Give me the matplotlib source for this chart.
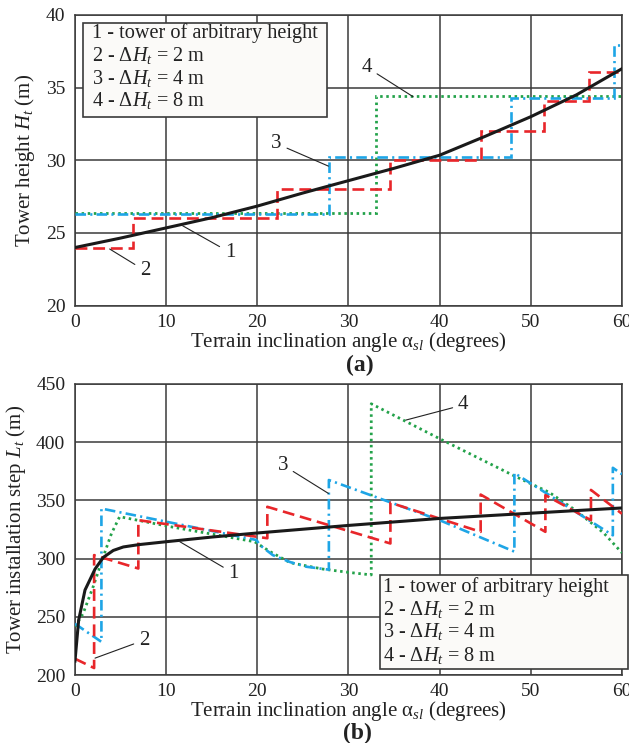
#!/usr/bin/env python3
"""Tower height and installation step versus terrain inclination angle."""
import matplotlib
matplotlib.use("Agg")
import matplotlib.pyplot as plt
from matplotlib.patches import Rectangle

plt.rcParams["font.family"] = ["Liberation Serif", "DejaVu Serif"]
plt.rcParams["mathtext.fontset"] = "custom"
plt.rcParams["mathtext.rm"] = "Liberation Serif"
plt.rcParams["mathtext.it"] = "Liberation Serif:italic"
plt.rcParams["mathtext.bf"] = "Liberation Serif:bold"

TEXT = "#222222"
GRID = "#3a3a3a"
RED = "#e8262a"
BLUE = "#1ea5e6"
GREEN = "#23a24a"

LEGEND_LINES = [
    "1 - tower of arbitrary height",
    r"2 - $\Delta H_t$ = 2 m",
    r"3 - $\Delta H_t$ = 4 m",
    r"4 - $\Delta H_t$ = 8 m",
]

# (a) tower height, curve 1 is smooth, curves 2-4 are steps
H1_X = [0, 5, 10, 15, 20, 25, 30, 35, 40, 45, 50, 55, 60]
H1_Y = [24.0, 24.65, 25.35, 26.05, 26.85, 27.75, 28.6, 29.45, 30.35, 31.65, 33.0, 34.5, 36.3]
H2_EDGES = [0, 6.4, 22.2, 34.6, 44.5, 51.5, 56.4, 60]
H2_LEVELS = [24.0, 26.0, 28.0, 30.0, 32.0, 34.1, 36.1]
H3_EDGES = [0, 27.85, 47.8, 59.1, 60]
H3_LEVELS = [26.3, 30.2, 34.3, 37.9]
H4_EDGES = [0, 33.05, 60]
H4_LEVELS = [26.4, 34.4]

# (b) tower installation step
L1_X = [0, 0.4, 1.1, 2.2, 3.1, 4.2, 5.3, 7, 10, 15, 20, 30, 40, 50, 60]
L1_Y = [212, 247, 273, 291, 301, 307, 310, 312, 314.5, 318.5, 322, 328.5, 334.5, 339, 343.5]
L2_X = [0, 2.1, 2.1, 6.95, 6.95, 21.1, 21.1, 34.6, 34.6, 44.5, 44.5, 51.6, 51.6, 56.6, 56.6, 60]
L2_Y = [214, 206, 303, 291.5, 333, 317.5, 344.5, 313, 348, 323, 355, 323, 354.5, 333, 359, 338.5]
L3_X = [0, 2.9, 2.9, 19.9, 20.3, 21.7, 23.6, 25.4, 27.85, 27.85, 40, 48.2, 48.2, 59.0, 59.0, 60]
L3_Y = [244, 228.5, 343, 316, 311.5, 303, 297, 293, 290.5, 367.5, 333, 306, 373.5, 320, 378, 372.5]
L4_X = [0, 0.9, 2.0, 3.1, 4.0, 4.9, 10.4, 19.7, 21.4, 23.6, 27.2, 30.2, 32.5, 32.5,
        40, 48.2, 52, 55, 58, 60]
L4_Y = [241.5, 253, 276, 301.5, 321.5, 336, 327.5, 314.5, 306, 296.5, 291, 288, 286, 433,
        403, 371, 357, 341, 322, 305]

X_TICKS = [0, 10, 20, 30, 40, 50, 60]
H_TICKS = [20, 25, 30, 35, 40]
L_TICKS = [200, 250, 300, 350, 400, 450]

RED_DASH = (0, (4.5, 2.2))
BLUE_DASH = (0, (4.0, 1.6, 0.8, 1.6))
GREEN_DOT = (0, (0.9, 1.3))

LABEL_SIZE = 15


def style_axes(ax, yticks, ylabel, label_x):
    ax.set_xlim(0, 60)
    ax.set_ylim(yticks[0], yticks[-1])
    ax.set_xticks(X_TICKS)
    ax.set_yticks(yticks)
    ax.tick_params(length=0, labelsize=14, colors=TEXT)
    ax.tick_params(axis="x", pad=6)
    ax.tick_params(axis="y", pad=7)
    ax.grid(True, color=GRID, linewidth=1.1)
    ax.set_axisbelow(True)
    for sp in ax.spines.values():
        sp.set_color(GRID)
        sp.set_linewidth(1.1)
    ax.set_xlabel(r"Terrain inclination angle $\mathrm{\alpha}_{sl}$ (degrees)",
                  fontsize=LABEL_SIZE, color=TEXT)
    ax.xaxis.set_label_coords(0.5, -0.082)
    ax.set_ylabel(ylabel, fontsize=LABEL_SIZE, color=TEXT)
    ax.yaxis.set_label_coords(label_x, 0.5)


def legend_box(ax, x0, y0, x1, y1, text_x, text_ys):
    ax.add_patch(Rectangle((x0, y0), x1 - x0, y1 - y0, transform=ax.transAxes,
                           facecolor="#fbfaf8", edgecolor=GRID, linewidth=1.2,
                           clip_on=False, zorder=5))
    for line, ty in zip(LEGEND_LINES, text_ys):
        ax.text(text_x, ty, line, transform=ax.transAxes, fontsize=14.6,
                color=TEXT, ha="left", va="center", zorder=6)


def leader(ax, label, tip, textpos):
    ax.annotate(label, xy=tip, xytext=textpos, ha="center", va="center",
                fontsize=LABEL_SIZE, color=TEXT, zorder=6,
                arrowprops=dict(arrowstyle="-", color=TEXT, lw=0.8,
                                shrinkA=2, shrinkB=0))


fig = plt.figure(figsize=(6.29, 7.43), dpi=100)
ax_a = fig.add_axes([0.1192, 0.5886, 0.8696, 0.3913])
ax_b = fig.add_axes([0.1192, 0.0915, 0.8696, 0.3917])

# (a) tower height
ax_a.stairs(H4_LEVELS, H4_EDGES, baseline=None, color=GREEN, linestyle=GREEN_DOT,
            linewidth=2.0, zorder=3)
ax_a.stairs(H3_LEVELS, H3_EDGES, baseline=None, color=BLUE, linestyle=BLUE_DASH,
            linewidth=1.9, zorder=3)
ax_a.stairs(H2_LEVELS, H2_EDGES, baseline=None, color=RED, linestyle=RED_DASH,
            linewidth=1.9, zorder=3)
ax_a.plot(H1_X, H1_Y, color="#1a1a1a", linewidth=2.2, zorder=4)
style_axes(ax_a, H_TICKS, r"Tower height $H_t$ (m)", -0.07)
legend_box(ax_a, 0.0152, 0.650, 0.4612, 0.9735, 0.031,
           [0.938, 0.859, 0.780, 0.704])
leader(ax_a, "1", (11.8, 25.5), (17.0, 23.66))
leader(ax_a, "2", (3.8, 23.9), (7.7, 22.4))
leader(ax_a, "3", (27.8, 29.6), (22.1, 31.15))
leader(ax_a, "4", (37.1, 34.37), (32.0, 36.4))

# (b) tower installation step
ax_b.plot(L4_X, L4_Y, color=GREEN, linestyle=GREEN_DOT, linewidth=2.0, zorder=3)
ax_b.plot(L3_X, L3_Y, color=BLUE, linestyle=BLUE_DASH, linewidth=1.9, zorder=3)
ax_b.plot(L2_X, L2_Y, color=RED, linestyle=RED_DASH, linewidth=1.9, zorder=3)
ax_b.plot(L1_X, L1_Y, color="#1a1a1a", linewidth=2.2, zorder=4)
style_axes(ax_b, L_TICKS, r"Tower installation step $L_t$ (m)", -0.086)
legend_box(ax_b, 0.5576, 0.0206, 1.0115, 0.3436, 0.563,
           [0.3034, 0.2234, 0.1488, 0.0687])
leader(ax_b, "1", (11.5, 314.5), (17.4, 287.4))
leader(ax_b, "2", (2.2, 214.5), (7.6, 230))
leader(ax_b, "3", (27.8, 356), (22.8, 380.4))
leader(ax_b, "4", (36.3, 419), (42.6, 432))

fig.text(0.572, 1 - 365 / 743, "(a)", fontsize=17, fontweight="bold",
         color=TEXT, ha="center", va="center")
fig.text(0.569, 1 - 733.5 / 743, "(b)", fontsize=17, fontweight="bold",
         color=TEXT, ha="center", va="center")

fig.savefig("out.png", dpi=100)
